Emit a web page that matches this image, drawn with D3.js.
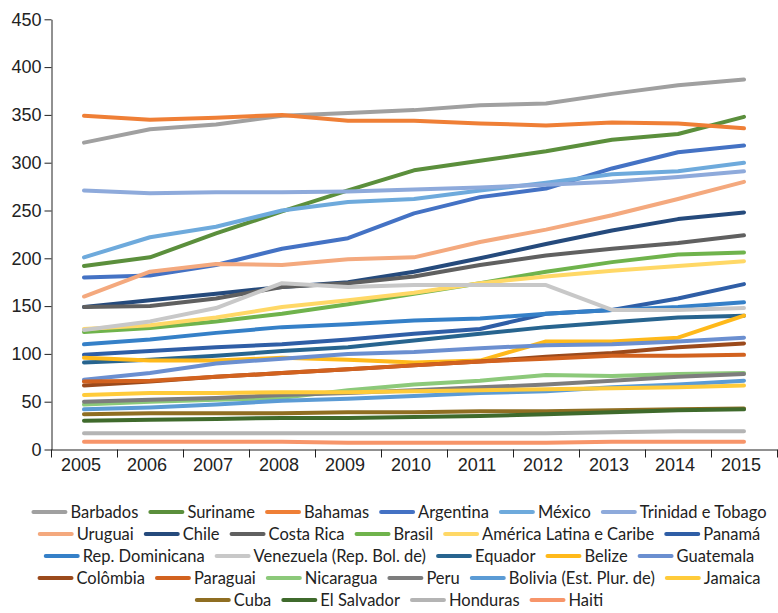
<!DOCTYPE html>
<html>
<head>
<meta charset="utf-8">
<script src="https://cdn.jsdelivr.net/npm/d3@7"></script>
<style>
  body { margin: 0; background: #fff; }
  svg { display: block; font-family: Lato, "Open Sans", sans-serif; }
  .axis text { font-size: 18px; fill: #222; }
  .axis path, .axis line { stroke: #222; }
  .legend text { font-size: 16.5px; fill: #222; }
</style>
</head>
<body>
<svg id="chart"></svg>
<script>
const years = [2005, 2006, 2007, 2008, 2009, 2010, 2011, 2012, 2013, 2014, 2015];
const yTicks = [0, 50, 100, 150, 200, 250, 300, 350, 400, 450];

// values per country, 2005..2015
const barbados   = [321, 335, 340, 349, 352, 355, 360, 362, 372, 381, 387];
const suriname   = [192, 201, 226, 249, 271, 292, 302, 312, 324, 330, 348];
const bahamas    = [349, 345, 347, 350, 344, 344, 341, 339, 342, 341, 336];
const argentina  = [180, 182, 193, 210, 221, 247, 264, 273, 294, 311, 318];
const mexico     = [201, 222, 233, 250, 259, 262, 271, 279, 288, 291, 300];
const trinidad   = [271, 268, 269, 269, 270, 272, 274, 277, 280, 285, 291];
const uruguai    = [160, 186, 194, 193, 199, 201, 217, 230, 245, 262, 280];
const chile      = [149, 156, 163, 170, 175, 186, 200, 215, 229, 241, 248];
const costaRica  = [149, 150, 158, 170, 174, 181, 193, 203, 210, 216, 224];
const brasil     = [123, 127, 134, 142, 152, 163, 174, 186, 196, 204, 206];
const americaLat = [126, 130, 138, 149, 156, 164, 174, 181, 187, 192, 197];
const panama     = [99, 103, 107, 110, 115, 121, 126, 142, 146, 158, 173];
const repDom     = [110, 115, 122, 128, 131, 135, 137, 142, 146, 149, 154];
const venezuela  = [125, 134, 148, 174, 170, 172, 172, 172, 146, 146, 148];
const equador    = [91, 94, 98, 103, 107, 114, 121, 128, 133, 138, 140];
const belize     = [96, 93, 93, 96, 94, 91, 93, 113, 113, 117, 140];
const guatemala  = [73, 80, 90, 95, 100, 102, 106, 109, 110, 113, 117];
const colombia   = [67, 71, 76, 80, 84, 88, 92, 97, 101, 107, 111];
const paraguai   = [71, 72, 76, 80, 84, 88, 92, 95, 98, 98, 99];
const nicaragua  = [47, 50, 52, 54, 62, 68, 72, 78, 77, 79, 80];
const peru       = [50, 52, 54, 57, 59, 62, 65, 68, 72, 76, 79];
const bolivia    = [42, 44, 47, 51, 53, 56, 59, 61, 65, 68, 72];
const jamaica    = [57, 59, 59, 60, 60, 61, 62, 63, 64, 65, 67];
const cuba       = [37, 38, 38, 38, 39, 39, 40, 40, 41, 42, 43];
const elSalvador = [30, 31, 32, 33, 33, 34, 35, 37, 39, 41, 42];
const honduras   = [17, 17, 17, 17, 17, 17, 17, 17, 18, 19, 19];
const haiti      = [8, 8, 8, 8, 7, 7, 7, 7, 8, 8, 8];

const names = ["Barbados", "Suriname", "Bahamas", "Argentina", "México", "Trinidad e Tobago",
  "Uruguai", "Chile", "Costa Rica", "Brasil", "América Latina e Caribe", "Panamá",
  "Rep. Dominicana", "Venezuela (Rep. Bol. de)", "Equador", "Belize", "Guatemala",
  "Colômbia", "Paraguai", "Nicaragua", "Peru", "Bolivia (Est. Plur. de)", "Jamaica",
  "Cuba", "El Salvador", "Honduras", "Haiti"];
const values = [barbados, suriname, bahamas, argentina, mexico, trinidad,
  uruguai, chile, costaRica, brasil, americaLat, panama,
  repDom, venezuela, equador, belize, guatemala,
  colombia, paraguai, nicaragua, peru, bolivia, jamaica,
  cuba, elSalvador, honduras, haiti];
const colors = ["#a0a0a0", "#5b8f3c", "#ef7f36", "#4472c4", "#6eaadc", "#8eaadb",
  "#f4a97e", "#254a7c", "#606060", "#6fb34c", "#ffd866", "#2f5ea6",
  "#3580c8", "#c8c8c8", "#27648f", "#ffb91a", "#6b8fd0",
  "#9b4a1c", "#d2621f", "#8cc97a", "#7d7d7d", "#5b9bd5", "#ffcb3a",
  "#8f6e22", "#3f6a2c", "#b4b4b4", "#f7956a"];
const legendRows = [6, 6, 5, 6, 4];

const W = 778, H = 613;
const svg = d3.select("#chart").attr("width", W).attr("height", H);

const x = d3.scaleBand().domain(years).range([51, 777]);
const xEdge = d3.scaleLinear().domain([0, years.length]).range([51, 777]);
const y = d3.scaleLinear().domain([0, 450]).range([449.5, 19.3]);

// Axes
svg.append("g")
    .attr("class", "axis")
    .attr("transform", "translate(0,449.5)")
    .call(d3.axisBottom(xEdge).tickValues(d3.range(years.length + 1)).tickFormat("").tickSize(8).tickSizeOuter(0));
const xLabels = svg.append("g")
    .attr("class", "axis")
    .attr("transform", "translate(-3,449.5)")
    .call(d3.axisBottom(x).tickSize(0).tickPadding(9));
xLabels.select(".domain").remove();

svg.append("g")
    .attr("class", "axis")
    .attr("transform", "translate(51.5,0)")
    .call(d3.axisLeft(y).tickValues(yTicks).tickSize(7).tickSizeOuter(0).tickPadding(3));

// Lines
const line = d3.line()
    .x((d, i) => x(years[i]) + x.bandwidth() / 2)
    .y(d => y(d));

svg.append("g").selectAll("path")
    .data(values)
    .join("path")
    .attr("d", line)
    .attr("fill", "none")
    .attr("stroke", (d, i) => colors[i])
    .attr("stroke-width", 4)
    .attr("stroke-linecap", "round")
    .attr("stroke-linejoin", "round");

// Legend
const legend = svg.append("g").attr("class", "legend");
let start = 0;
legendRows.forEach((count, r) => {
    const row = legend.append("g");
    const idx = d3.range(start, start + count);
    start += count;
    let cx = 0;
    idx.forEach(i => {
        const item = row.append("g").attr("transform", `translate(${cx},0)`);
        item.append("line")
            .attr("x1", 0).attr("x2", 32)
            .attr("stroke", colors[i])
            .attr("stroke-width", 4)
            .attr("stroke-linecap", "round");
        const t = item.append("text")
            .attr("x", 37)
            .attr("dy", "0.35em")
            .text(names[i]);
        cx += 37 + t.node().getComputedTextLength() + 12;
    });
    const total = cx - 12;
    row.attr("transform", `translate(${400 - total / 2},${512 + r * 22})`);
});
</script>
</body>
</html>
